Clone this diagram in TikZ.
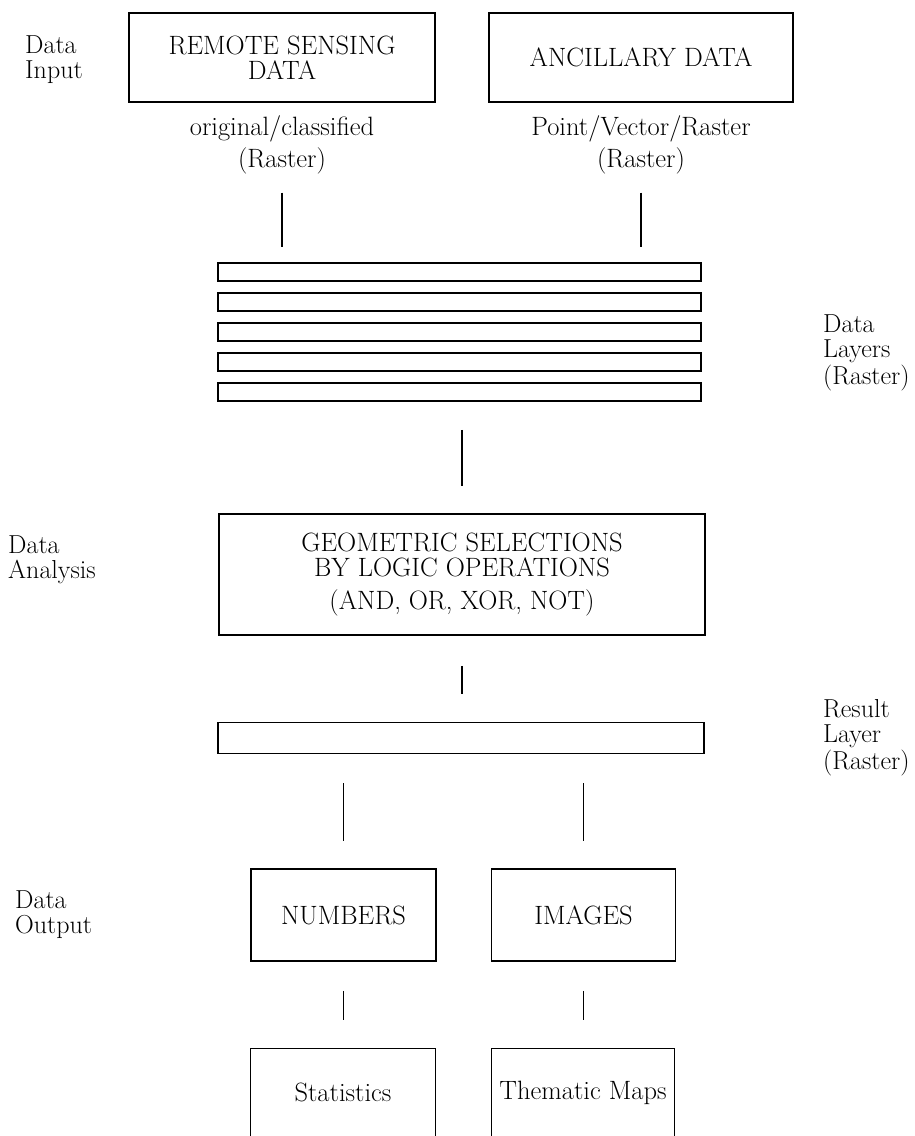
\documentclass[tikz,border=0pt]{standalone}
\usetikzlibrary{positioning}

\tikzset{
  txt/.style={font=\fontsize{26.5}{25.5}\selectfont, inner sep=0pt, align=center},
  bigbox/.style={txt, draw, line width=1.6pt},
  layer/.style={draw, line width=1.6pt, inner sep=0pt, minimum width=483pt, minimum height=18pt},
  sidelabel/.style={font=\fontsize{26}{25}\selectfont, inner sep=0pt, align=left, anchor=west},
  link/.style={line width=1.2pt},
  thinbox/.style={line width=0.9pt}
}

\begin{document}
\begin{tikzpicture}[x=1pt,y=-1pt]
\useasboundingbox (0,0) rectangle (915,1136);

% input
\node[bigbox, minimum width=306pt, minimum height=89pt] (rs) at (282,57.5) {REMOTE SENSING\\DATA};
\node[bigbox, minimum width=304pt, minimum height=89pt] (ad) at (641,57.5) {ANCILLARY DATA};
\node[txt] (rsfmt) at (282,145) {original/classified\\[5pt](Raster)};
\node[txt] (adfmt) at (641,145) {Point/Vector/Raster\\[5pt](Raster)};
\node[sidelabel] (inlab) at (25,60) {Data\\Input};

% data layers
\foreach \i in {1,...,5}
  \node[layer] (lay\i) at (459.5,{272+30*(\i-1)}) {};
\node[sidelabel] (laylab) at (823,353) {Data\\Layers\\[2pt](Raster)};

\draw[link, shorten <=18pt, shorten >=15pt] (rsfmt.south) -- (rsfmt.south |- lay1.north);
\draw[link, shorten <=18pt, shorten >=15pt] (adfmt.south) -- (adfmt.south |- lay1.north);

% analysis
\node[bigbox, minimum width=486pt, minimum height=121pt] (sel) at (462,574.5)
  {GEOMETRIC SELECTIONS\\BY LOGIC OPERATIONS\\[7pt](AND, OR, XOR, NOT)};
\node[sidelabel] (anlab) at (8,560) {Data\\Analysis};
\draw[link, shorten <=28pt, shorten >=27pt] (sel.north |- lay5.south) -- (sel.north);

% result
\node[layer, minimum width=486pt, minimum height=31pt] (res) at (461,738) {};
\node[sidelabel] (reslab) at (823,738) {Result\\Layer\\[2pt](Raster)};
\draw[link, shorten <=30pt, shorten >=28pt] (sel.south) -- (sel.south |- res.north);

% output
\node[bigbox, minimum width=185pt, minimum height=92pt] (num) at (343.5,915) {NUMBERS};
\node[bigbox, minimum width=184pt, minimum height=92pt] (img) at (583.5,915) {IMAGES};
\node[sidelabel] (outlab) at (15,915) {Data\\Output};
\draw[link, shorten <=29pt, shorten >=27pt] (num.north |- res.south) -- (num.north);
\draw[link, shorten <=29pt, shorten >=27pt] (img.north |- res.south) -- (img.north);

\node[txt, minimum width=184pt, minimum height=87pt] (stats) at (343,1092.5) {Statistics};
\node[txt, minimum width=183pt, minimum height=87pt] (maps) at (583,1092.5) {Thematic Maps};
\draw[thinbox] (stats.south west) |- (stats.north east) -- (stats.south east);
\draw[thinbox] (maps.south west) |- (maps.north east) -- (maps.south east);
\draw[link, shorten <=29pt, shorten >=29pt] (num) -- (num |- stats.north);
\draw[link, shorten <=29pt, shorten >=29pt] (img) -- (img |- maps.north);
\end{tikzpicture}
\end{document}
